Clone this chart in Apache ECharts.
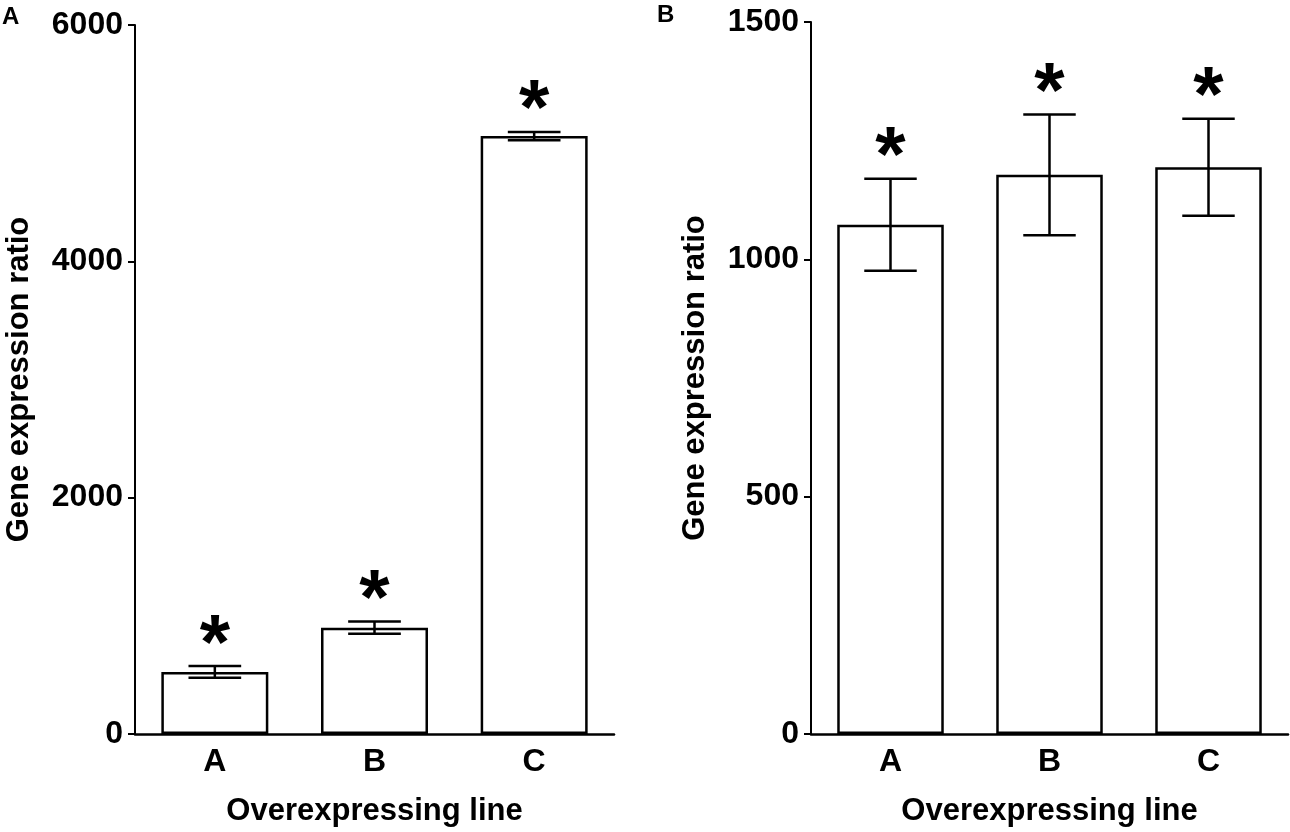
<!DOCTYPE html>
<html lang="en">
<head>
    <meta charset="UTF-8">
    <title>Gene expression ratio</title>
    <script src="https://cdn.jsdelivr.net/npm/echarts@6/dist/echarts.min.js"></script>
    <style>
        html, body { margin: 0; padding: 0; background: #fff; }
    </style>
</head>
<body>
    <div id="main" style="width: 1290px; height: 832px;"></div>
    <script>
        const myChart = echarts.init(document.getElementById('main'));

        // data
        const lines = ['A', 'B', 'C'];
        const ratioA = [525, 900, 5060];
        const errA = [50, 52, 35];
        const ratioB = [1073, 1178, 1194];
        const errB = [97, 127, 102];
        const ticksA = { max: 6000, interval: 2000 };
        const ticksB = { max: 1500, interval: 500 };

        const font = 'Liberation Sans';

        function renderErr(params, api) {
            const x = api.value(0);
            const mean = api.value(1);
            const err = api.value(2);
            const top = api.coord([x, mean + err]);
            const bot = api.coord([x, mean - err]);
            const half = api.size([1, 0])[0] * 0.165;
            const style = { stroke: '#000', lineWidth: 2.5 };
            return {
                type: 'group',
                children: [
                    { type: 'line', shape: { x1: top[0], y1: top[1], x2: bot[0], y2: bot[1] }, style: style },
                    { type: 'line', shape: { x1: top[0] - half, y1: top[1], x2: top[0] + half, y2: top[1] }, style: style },
                    { type: 'line', shape: { x1: bot[0] - half, y1: bot[1], x2: bot[0] + half, y2: bot[1] }, style: style },
                    {
                        // significance mark
                        type: 'text',
                        x: top[0],
                        y: top[1] - 19,
                        style: {
                            text: '*',
                            fill: '#000',
                            fontSize: 78,
                            fontWeight: 'bold',
                            fontFamily: font,
                            align: 'center',
                            verticalAlign: 'middle'
                        }
                    }
                ]
            };
        }

        function xAxis(idx) {
            return {
                type: 'category',
                gridIndex: idx,
                data: lines,
                name: 'Overexpressing line',
                nameLocation: 'middle',
                nameGap: 62,
                nameTextStyle: { fontSize: 31, fontWeight: 'bold', color: '#000', fontFamily: font },
                axisLine: { lineStyle: { color: '#000', width: 2.5 } },
                axisTick: { alignWithLabel: true, length: 7, lineStyle: { color: '#000', width: 2.5 } },
                axisLabel: { fontSize: 32, fontWeight: 'bold', color: '#000', fontFamily: font, margin: 12 },
                splitLine: { show: false }
            };
        }

        function yAxis(idx, ticks) {
            return {
                type: 'value',
                gridIndex: idx,
                min: 0,
                max: ticks.max,
                interval: ticks.interval,
                name: 'Gene expression ratio',
                nameLocation: 'middle',
                nameGap: 100,
                nameTextStyle: { fontSize: 31, fontWeight: 'bold', color: '#000', fontFamily: font },
                axisLine: { show: true, lineStyle: { color: '#000', width: 2 } },
                axisTick: { show: true, length: 7, lineStyle: { color: '#000', width: 2 } },
                axisLabel: {
                    fontSize: 32, fontWeight: 'bold', color: '#000', fontFamily: font, margin: 12,
                    formatter: v => String(v)
                },
                splitLine: { show: false }
            };
        }

        const barStyle = { color: '#fff', borderColor: '#000', borderWidth: 2.5 };

        const options = {
            backgroundColor: '#fff',
            animation: false,
            graphic: [
                { type: 'text', left: 2, top: 5, style: { text: 'A', fontSize: 24, fontWeight: 'bold', fill: '#000', fontFamily: font } },
                { type: 'text', left: 657, top: 3, style: { text: 'B', fontSize: 24, fontWeight: 'bold', fill: '#000', fontFamily: font } }
            ],
            grid: [
                { left: 135, top: 25, width: 479, height: 710 },
                { left: 811, top: 22, width: 477, height: 712 }
            ],
            xAxis: [xAxis(0), xAxis(1)],
            yAxis: [yAxis(0, ticksA), yAxis(1, ticksB)],
            series: [
                {
                    type: 'bar',
                    xAxisIndex: 0,
                    yAxisIndex: 0,
                    barWidth: '67%',
                    data: ratioA,
                    itemStyle: barStyle
                },
                {
                    type: 'custom',
                    xAxisIndex: 0,
                    yAxisIndex: 0,
                    renderItem: renderErr,
                    encode: { x: 0, y: 1 },
                    z: 5,
                    data: lines.map((c, i) => [i, ratioA[i], errA[i]])
                },
                {
                    type: 'bar',
                    xAxisIndex: 1,
                    yAxisIndex: 1,
                    barWidth: '67%',
                    data: ratioB,
                    itemStyle: barStyle
                },
                {
                    type: 'custom',
                    xAxisIndex: 1,
                    yAxisIndex: 1,
                    renderItem: renderErr,
                    encode: { x: 0, y: 1 },
                    z: 5,
                    data: lines.map((c, i) => [i, ratioB[i], errB[i]])
                }
            ]
        };

        myChart.setOption(options);
    </script>
</body>
</html>
